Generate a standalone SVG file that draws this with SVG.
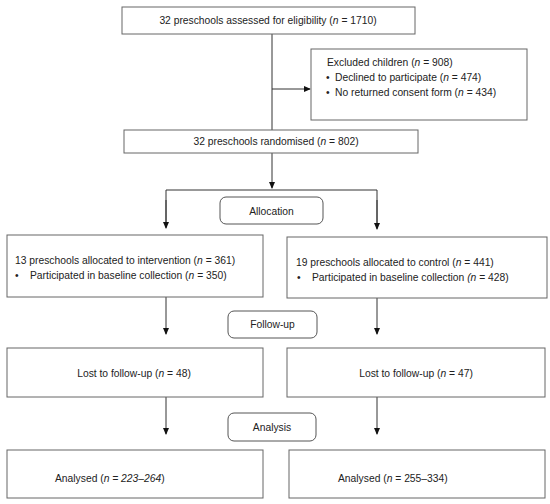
<svg xmlns="http://www.w3.org/2000/svg" width="550" height="504" viewBox="0 0 550 504">
<defs>
<style>
.box{fill:#fff;stroke:#666;stroke-width:1}
.rbox{fill:#fff;stroke:#555;stroke-width:1}
.ln{fill:none;stroke:#333;stroke-width:1}
text{font-family:"Liberation Sans",Arial,sans-serif;font-size:10.3px;fill:#222}
.c{text-anchor:middle}
.i{font-style:italic}
</style>
<marker id="ah" viewBox="0 0 8 8" refX="7" refY="4" markerWidth="7" markerHeight="7" markerUnits="userSpaceOnUse" orient="auto">
<path d="M0,0.5 L8,4 L0,7.5 Z" fill="#111"/>
</marker>
</defs>
<rect width="550" height="504" fill="#fff"/>
<g id="connectors">
<path class="ln" d="M272,34 V130"/>
<path class="ln" d="M272,89 H310" marker-end="url(#ah)"/>
<path class="ln" d="M272,153 V188" marker-end="url(#ah)"/>
<path class="ln" d="M166,227 V190 H377 V228" />
<path class="ln" d="M166,200 V228" marker-end="url(#ah)"/>
<path class="ln" d="M377,200 V229" marker-end="url(#ah)"/>
<path class="ln" d="M166,297 V334" marker-end="url(#ah)"/>
<path class="ln" d="M377,298 V334" marker-end="url(#ah)"/>
<path class="ln" d="M166,397 V434" marker-end="url(#ah)"/>
<path class="ln" d="M377,397 V434" marker-end="url(#ah)"/>
</g>
<g id="assessed">
<rect class="box" x="122" y="7" width="293" height="27"/>
<text class="c" x="268" y="24">32 preschools assessed for eligibility (<tspan class="i">n</tspan> = 1710)</text>
</g>
<g id="excluded">
<rect class="box" x="311" y="49" width="216" height="71"/>
<text x="327" y="66">Excluded children (<tspan class="i">n</tspan> = 908)</text>
<text x="326" y="81">•</text>
<text x="335" y="81">Declined to participate (<tspan class="i">n</tspan> = 474)</text>
<text x="326" y="96">•</text>
<text x="335" y="96">No returned consent form (<tspan class="i">n</tspan> = 434)</text>
</g>
<g id="randomised">
<rect class="box" x="124" y="130" width="294" height="23"/>
<text class="c" x="276" y="145">32 preschools randomised (<tspan class="i">n</tspan> = 802)</text>
</g>
<g id="allocation">
<rect class="rbox" x="220" y="197" width="103" height="27" rx="6"/>
<text class="c" x="271.5" y="214.5">Allocation</text>
</g>
<g id="intervention">
<rect class="box" x="7" y="235" width="256" height="62"/>
<text x="15" y="264">13 preschools allocated to intervention (<tspan class="i">n</tspan> = 361)</text>
<text x="15" y="279">•</text>
<text x="30" y="279">Participated in baseline collection (<tspan class="i">n</tspan> = 350)</text>
</g>
<g id="control">
<rect class="box" x="287" y="237" width="260" height="61"/>
<text x="296" y="266">19 preschools allocated to control (<tspan class="i">n</tspan> = 441)</text>
<text x="297" y="281">•</text>
<text x="312" y="281">Participated in baseline collection <tspan class="i">(n</tspan> = 428)</text>
</g>
<g id="followup">
<rect class="rbox" x="228" y="311" width="89" height="27" rx="6"/>
<text class="c" x="272.5" y="328">Follow-up</text>
</g>
<g id="lost-left">
<rect class="box" x="7" y="348" width="256" height="49"/>
<text class="c" x="134" y="376.5">Lost to follow-up (<tspan class="i">n</tspan> = 48)</text>
</g>
<g id="lost-right">
<rect class="box" x="287" y="348" width="258" height="49"/>
<text class="c" x="416" y="376.5">Lost to follow-up (<tspan class="i">n</tspan> = 47)</text>
</g>
<g id="analysis">
<rect class="rbox" x="228" y="413" width="88" height="28" rx="6"/>
<text class="c" x="272" y="430.5">Analysis</text>
</g>
<g id="analysed-left">
<rect class="box" x="7" y="450" width="256" height="48"/>
<text x="55" y="482">Analysed (<tspan class="i">n = 223–264</tspan>)</text>
</g>
<g id="analysed-right">
<rect class="box" x="289" y="450" width="256" height="48"/>
<text x="338" y="482">Analysed (<tspan class="i">n</tspan> = 255–334)</text>
</g>
</svg>
